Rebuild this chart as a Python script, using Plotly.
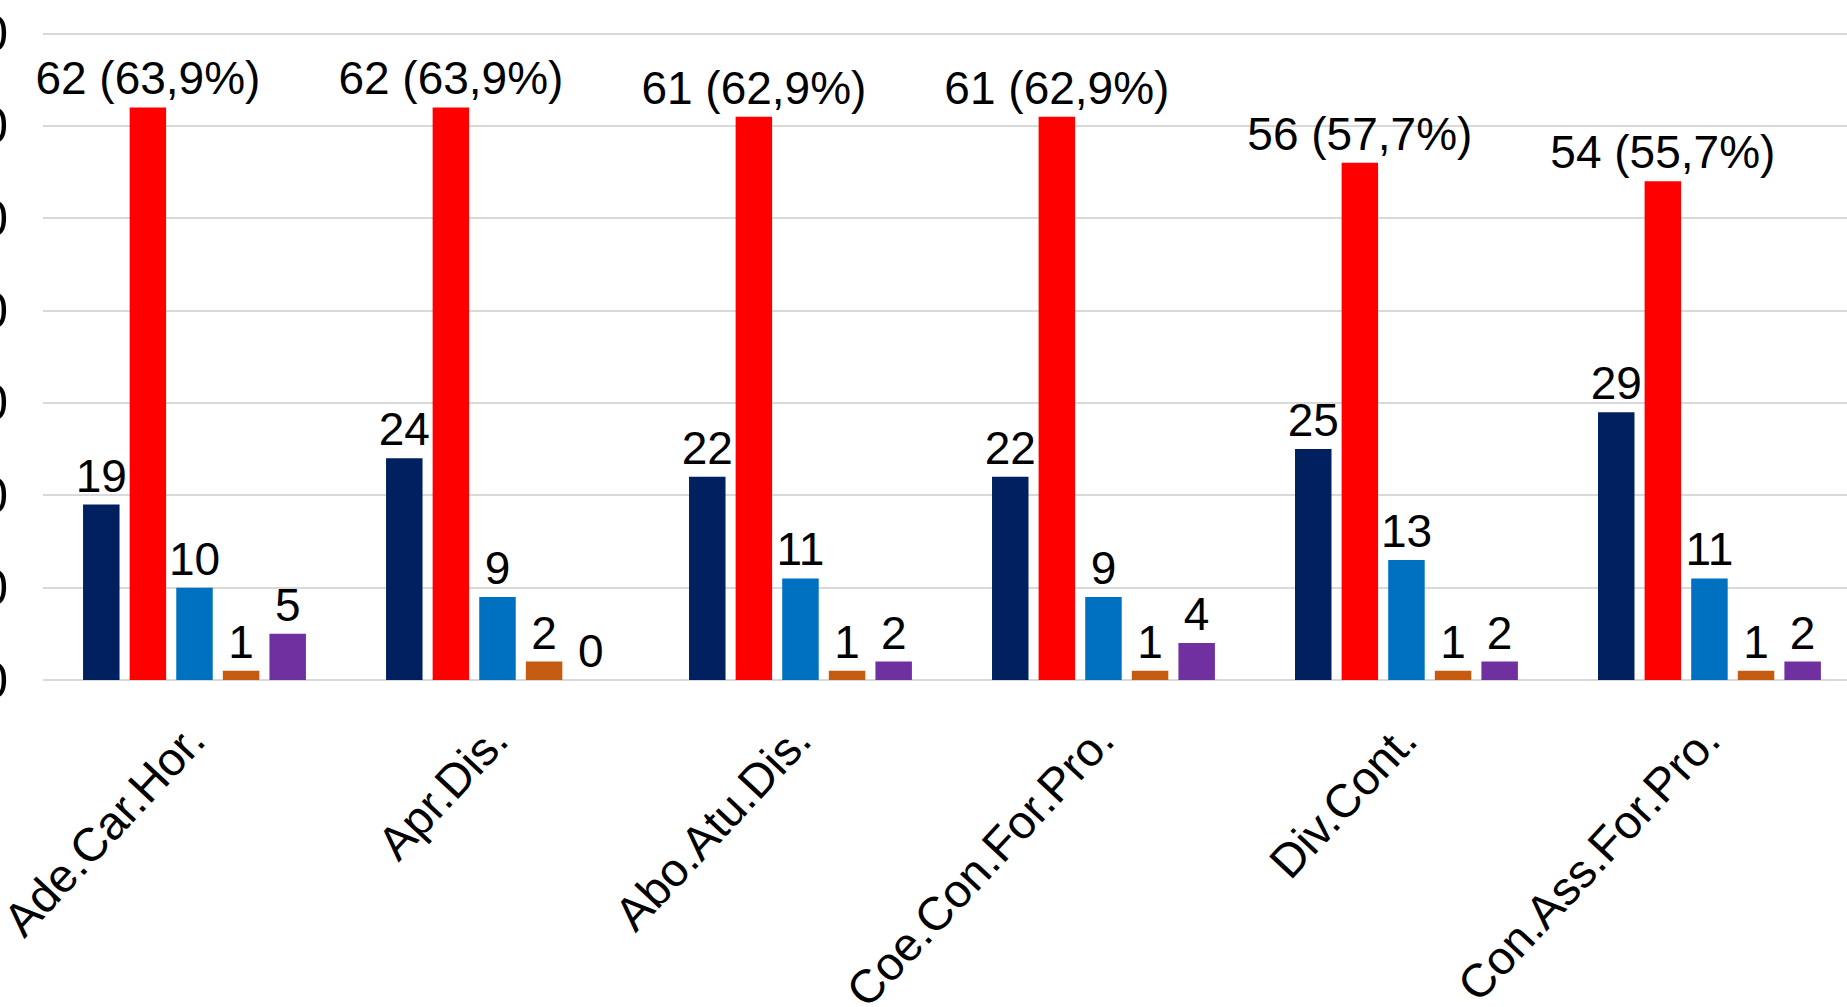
import plotly.graph_objects as go

categories = ["Ade.Car.Hor.", "Apr.Dis.", "Abo.Atu.Dis.", "Coe.Con.For.Pro.", "Div.Cont.", "Con.Ass.For.Pro."]
s_navy = [19, 24, 22, 22, 25, 29]
s_red = [62, 62, 61, 61, 56, 54]
s_red_labels = ["62 (63,9%)", "62 (63,9%)", "61 (62,9%)", "61 (62,9%)", "56 (57,7%)", "54 (55,7%)"]
s_blue = [10, 9, 11, 9, 13, 11]
s_orange = [1, 2, 1, 1, 1, 1]
s_purple = [5, 0, 2, 4, 2, 2]
y_ticks = [0, 10, 20, 30, 40, 50, 60, 70]

FONT = "Liberation Sans, Arial, sans-serif"
LABEL_FONT = dict(family=FONT, size=46, color="black")

series = [
    ("s1", s_navy, "#002060", None),
    ("s2", s_red, "#FF0000", s_red_labels),
    ("s3", s_blue, "#0070C0", None),
    ("s4", s_orange, "#C55A11", None),
    ("s5", s_purple, "#7030A0", None),
]

fig = go.Figure()
for name, vals, col, labels in series:
    fig.add_trace(go.Bar(
        name=name, x=categories, y=vals,
        marker=dict(color=col, line=dict(width=0)),
        text=labels if labels is not None else [str(v) for v in vals],
        textposition="outside", textangle=0, constraintext="none",
        textfont=LABEL_FONT, cliponaxis=False,
    ))

fig.update_layout(
    width=1847, height=1007,
    barmode="group", bargap=0.231, bargroupgap=0.217,
    showlegend=False,
    plot_bgcolor="white", paper_bgcolor="white",
    margin=dict(l=43, r=0, t=28, b=327, pad=0, autoexpand=False),
    xaxis=dict(
        type="category", range=[-0.5, 5.454], autorange=False, automargin=False,
        tickangle=-47, tickfont=dict(family=FONT, size=47, color="black"),
        showgrid=False, showline=False, ticks="",
        ticklabelstandoff=22, ticklabelshift=-4,
    ),
    yaxis=dict(
        range=[0, 70.6], autorange=False, tickvals=y_ticks, automargin=False,
        showgrid=True, gridcolor="#D9D9D9", gridwidth=2,
        zeroline=True, zerolinecolor="#D9D9D9", zerolinewidth=2,
        showline=False, ticks="",
        tickfont=dict(family=FONT, size=50, color="black"),
        ticklabelstandoff=34,
    ),
)

fig.write_html(
    "out.html",
    config={"displayModeBar": False},
    post_script="document.body.style.margin='0';document.body.style.overflow='hidden';",
)
